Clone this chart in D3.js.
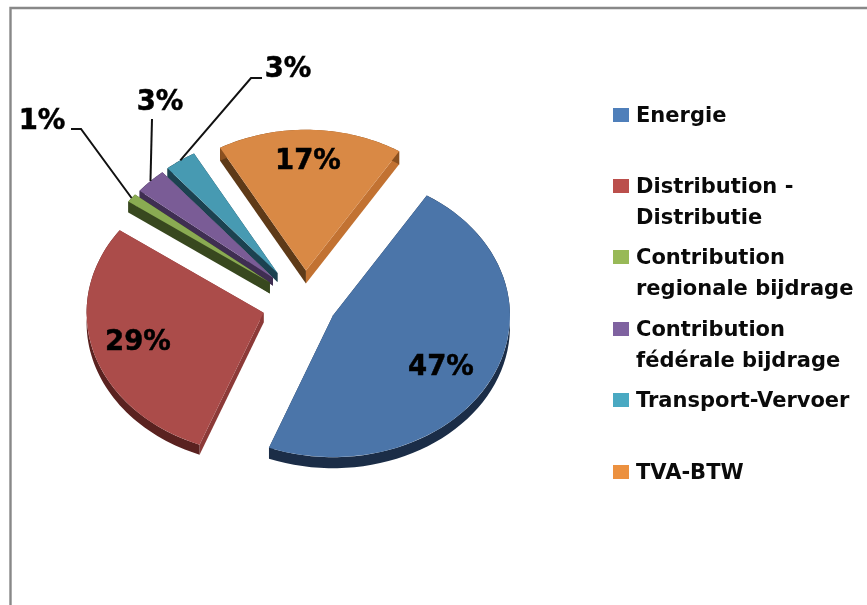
<!DOCTYPE html>
<html><head><meta charset="utf-8">
<script src="https://cdn.jsdelivr.net/npm/d3@7"></script>
<style>html,body{margin:0;padding:0;background:#fff}svg{display:block;filter:blur(0.45px)}</style>
</head><body><div id="c"></div>
<script>
const categories = ["Energie","Distribution - Distributie","Contribution regionale bijdrage","Contribution fédérale bijdrage","Transport-Vervoer","TVA-BTW"];
const values = [47,29,1,3,3,17];
const pctLabels = ["47%","29%","1%","3%","3%","17%"];
const legendLines = [["Energie"],["Distribution -","Distributie"],["Contribution","regionale bijdrage"],["Contribution","fédérale bijdrage"],["Transport-Vervoer"],["TVA-BTW"]];
const topColors = ["#4b75a9","#ab4c4a","#8aab52","#7a5c96","#479ab2","#d98945"];
const wallColors = ["#1b2d47","#5a2220","#38481f","#3f2e52","#1c4250","#8a5020"];
const startFaceColors = ["#1b2d47","#8c3a38","#38481f","#3f2e52","#1c4250","#5e3a18"];
const endFaceColors = ["#1b2d47","#8c3a38","#38481f","#3f2e52","#1c4250","#c27232"];
const legendColors = ["#4f7fba","#bb4f4c","#98b957","#7f62a0","#4aa9c2","#ec9140"];

const W=867,H=605, cx=299, cy=301, tilt=0.8, explode=38;
// per-slice layout tweaks (perspective of the original 3D view)
const radii=[177,177,174,172,171,176], depths=[11,10,11,8,9,13];
const nudgeX=[0,1,1,1,0,6], nudgeY=[1,3,0,-2,-3,0];

const svg=d3.select("#c").append("svg").attr("width",W).attr("height",H);
svg.append("path").attr("d",`M10.5,${H}V8H${W}`).attr("fill","none").attr("stroke","#888").attr("stroke-width",2.4);

const deg=Math.PI/180;
const arcs=d3.pie().sort(null).startAngle(32*deg).endAngle(392*deg)(values);
const line=d3.line();
const x=(o,r,a)=>o[0]+r*Math.sin(a), y=(o,r,a,z=0)=>o[1]-tilt*r*Math.cos(a)+z;
arcs.forEach((d,i)=>{const m=(d.startAngle+d.endAngle)/2;d.o=[x([cx,cy],explode,m)+nudgeX[i],y([cx,cy],explode,m)+nudgeY[i]];d.R=radii[i];d.dz=depths[i];});

const order=[4,3,2,5,1,0];
const pie=svg.append("g");
order.forEach(i=>{
  const d=arcs[i],o=d.o,R=d.R,depth=d.dz;
  const P=(a,z)=>[x(o,R,a),y(o,R,a,z)];
  const face=a=>[[o[0],o[1]],P(a,0),P(a,depth),[o[0],o[1]+depth]];
  pie.append("path").attr("d",line(face(d.startAngle))+"Z").attr("fill",startFaceColors[i]);
  pie.append("path").attr("d",line(face(d.endAngle))+"Z").attr("fill",endFaceColors[i]);
  const n=60,as=d3.range(n+1).map(k=>d.startAngle+(d.endAngle-d.startAngle)*k/n);
  const band=as.map(a=>P(a,0)).concat(as.slice().reverse().map(a=>P(a,depth)));
  pie.append("path").attr("d",line(band)+"Z").attr("fill",wallColors[i]);
  pie.append("path").attr("d",d3.arc().innerRadius(0).outerRadius(R)(d)).attr("fill",topColors[i])
     .attr("transform",`translate(${o[0]},${o[1]}) scale(1,${tilt})`);
});

// leader lines
const edge=(i,t)=>{const d=arcs[i],a=d.startAngle+(d.endAngle-d.startAngle)*t;return [x(d.o,d.R,a),y(d.o,d.R,a)];};
const leaders=[[2,[[71,129],[81,129]]],[3,[[152,119]]],[4,[[262,78],[251,78]]]];
leaders.forEach(([i,pts])=>{
  svg.append("path").attr("d",line([...pts,edge(i,0.5)])).attr("fill","none").attr("stroke","#111").attr("stroke-width",2);
});

// percent labels
const labelPos=[[441,366],[138,341],[42,120],[160,101],[288,68],[308,160]];
svg.append("g").selectAll("text").data(pctLabels).join("text")
  .attr("x",(d,i)=>labelPos[i][0]).attr("y",(d,i)=>labelPos[i][1]+9)
  .attr("text-anchor","middle").attr("font-family","'DejaVu Sans'").attr("font-weight",700)
  .attr("font-size",27.5).attr("fill","#000").attr("stroke","#000").attr("stroke-width",0.5).text(d=>d);

// legend
const legendY=[115,186,257,329,400,472];
const leg=svg.append("g");
categories.forEach((c,i)=>{
  leg.append("rect").attr("x",613).attr("y",legendY[i]-7).attr("width",16).attr("height",14).attr("fill",legendColors[i]);
  legendLines[i].forEach((t,j)=>{
    leg.append("text").attr("x",636).attr("y",legendY[i]+7+j*30.5)
      .attr("font-family","'DejaVu Sans'").attr("font-weight",700).attr("font-size",21)
      .attr("fill","#0a0a0a").text(t);
  });
});
</script></body></html>
